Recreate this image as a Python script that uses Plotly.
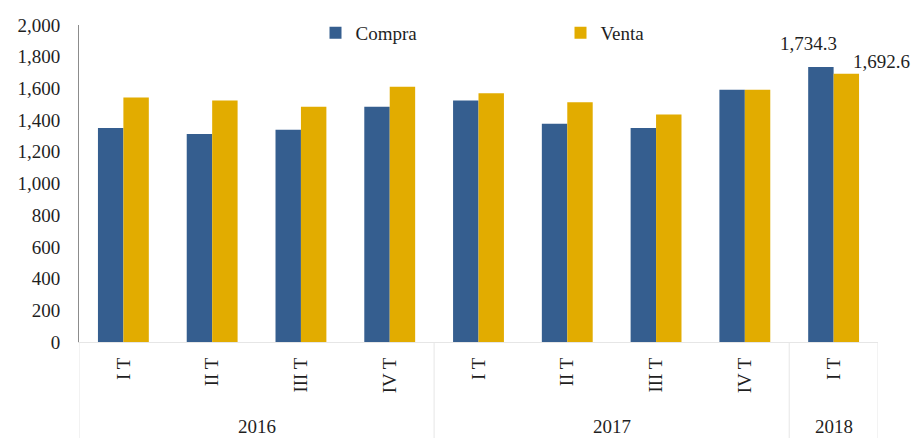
import plotly.graph_objects as go

years = ["2016", "2016", "2016", "2016", "2017", "2017", "2017", "2017", "2018"]
quarters = ["I T", "II T", "III T", "IV T", "I T", "II T", "III T", "IV T", "I T"]
compra = [1350, 1312, 1339, 1485, 1523, 1377, 1350, 1591, 1734.3]
venta = [1542, 1523, 1485, 1610, 1569, 1512, 1436, 1591, 1692.6]

FONT = "Liberation Serif"
TXT = "#1F1F1F"
BLUE = "#355E8F"
GOLD = "#E2AC00"

idx = list(range(len(quarters)))

fig = go.Figure()
fig.add_trace(go.Bar(x=idx, y=compra, name="Compra", marker=dict(color=BLUE, line=dict(width=0))))
fig.add_trace(go.Bar(x=idx, y=venta, name="Venta", marker=dict(color=GOLD, line=dict(width=0))))

# year groups
groups = []
for i, yv in enumerate(years):
    if not groups or groups[-1][0] != yv:
        groups.append([yv, i, i])
    else:
        groups[-1][2] = i

annotations = []
shapes = []
for yv, s, e in groups:
    annotations.append(dict(x=(s + e) / 2, y=-0.268, xref="x", yref="paper", text=yv,
                            showarrow=False, font=dict(family=FONT, size=19, color=TXT),
                            yanchor="middle"))
    shapes.append(dict(type="line", xref="x", yref="paper", x0=s - 0.5, x1=s - 0.5, y0=0, y1=-0.31,
                       line=dict(color="#E6E6E6", width=1)))
last = groups[-1][2]
shapes.append(dict(type="line", xref="x", yref="paper", x0=last + 0.5, x1=last + 0.5, y0=0, y1=-0.31,
                   line=dict(color="#E6E6E6", width=1)))

# data labels for last period
n = len(quarters) - 1
annotations.append(dict(x=n, y=compra[n], xref="x", yref="y", text=f"{compra[n]:,.1f}",
                        showarrow=False, xshift=-25, yshift=24, yanchor="middle",
                        font=dict(family=FONT, size=19, color=TXT)))
annotations.append(dict(x=n, y=venta[n], xref="x", yref="y", text=f"{venta[n]:,.1f}",
                        showarrow=False, xshift=48, yshift=12, yanchor="middle",
                        font=dict(family=FONT, size=19, color=TXT)))

fig.update_layout(
    width=919, height=438,
    margin=dict(l=79, r=41, t=25, b=96, autoexpand=False),
    paper_bgcolor="white", plot_bgcolor="white",
    barmode="group", bargap=0.427, bargroupgap=0,
    font=dict(family=FONT, size=19, color=TXT),
    showlegend=True,
    legend=dict(orientation="h", x=0.296, y=0.975, xanchor="left", yanchor="middle",
                entrywidth=200, entrywidthmode="pixels",
                font=dict(family=FONT, size=19, color=TXT), bgcolor="rgba(0,0,0,0)"),
    annotations=annotations,
    shapes=shapes,
    xaxis=dict(range=[-0.5, len(quarters) - 0.5], tickmode="array", tickvals=idx, ticktext=quarters,
               tickangle=-90, showline=True, linecolor="#E6E6E6", linewidth=1,
               showgrid=False, zeroline=False, ticks="", ticklabelstandoff=7,
               tickfont=dict(family=FONT, size=19, color=TXT)),
    yaxis=dict(range=[0, 2000], dtick=200, tickformat=",", showline=True, linecolor="#8C8C8C",
               linewidth=1, showgrid=False, zeroline=False, ticks="", ticklabelstandoff=14,
               tickfont=dict(family=FONT, size=19, color=TXT)),
)

fig.write_html("out.html", config={"displayModeBar": False},
               post_script="document.body.style.margin='0';document.body.style.overflow='hidden';")
